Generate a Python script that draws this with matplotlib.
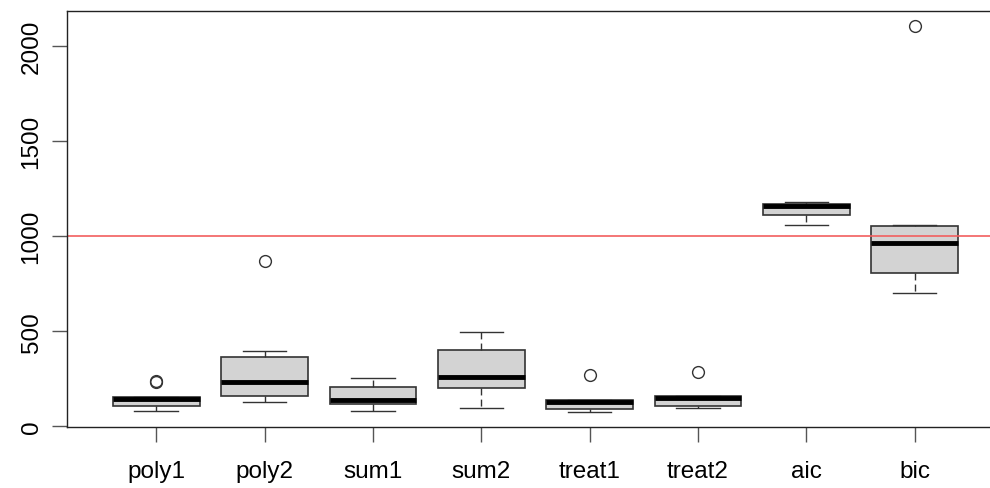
import matplotlib
matplotlib.use("Agg")
import matplotlib.pyplot as plt

plt.rcParams['font.family'] = ['Liberation Sans', 'DejaVu Sans']

# values
labels = ["poly1", "poly2", "sum1", "sum2", "treat1", "treat2", "aic", "bic"]
whislo = [79, 126, 79, 95, 74, 95, 1061, 703]
q1 = [108, 158, 116, 200, 91, 105, 1114, 808]
med = [144, 233, 140, 260, 126, 149, 1161, 963]
q3 = [153, 363, 205, 403, 140, 158, 1172, 1054]
whishi = [153, 398, 253, 498, 140, 158, 1179, 1061]
fliers = [[233, 237], [870], [], [], [272], [284], [], [2108]]
ref_level = 1000

stats = []
for i in range(len(labels)):
    stats.append(dict(label=labels[i], whislo=whislo[i], q1=q1[i], med=med[i],
                      q3=q3[i], whishi=whishi[i], fliers=fliers[i]))

fig = plt.figure(figsize=(9.9, 4.89), dpi=100)
ax = fig.add_axes([67.3 / 990, 1 - 428.3 / 489, (1003.6 - 67.3) / 990, (428.3 - 12.3) / 489])

ax.bxp(stats, positions=range(1, 9), widths=0.8, patch_artist=True,
       boxprops=dict(facecolor="#d3d3d3", edgecolor="#333333", linewidth=1.2),
       medianprops=dict(color="black", linewidth=3.5, solid_capstyle="butt"),
       whiskerprops=dict(color="#333333", linewidth=1, linestyle=(0, (5, 3))),
       capprops=dict(color="#333333", linewidth=1),
       capwidths=0.4,
       flierprops=dict(marker="o", markersize=8.5, markerfacecolor="none",
                       markeredgecolor="#333333", markeredgewidth=1))

ax.axhline(ref_level, color="#f25f5f", linewidth=1.2)

ax.set_xlim(0.18, 8.82)
ax.set_ylim(-5.3, 2184.2)
ax.set_yticks([0, 500, 1000, 1500, 2000])
ax.set_yticklabels(["0", "500", "1000", "1500", "2000"], rotation=90, va="center")
ax.tick_params(axis="both", length=10.8, width=1, color="#555555", labelsize=17.5)
ax.tick_params(axis="x", pad=13)
ax.tick_params(axis="y", pad=7)
for s in ax.spines.values():
    s.set_linewidth(1)
    s.set_color("#222222")

fig.savefig("out.png", dpi=100)
